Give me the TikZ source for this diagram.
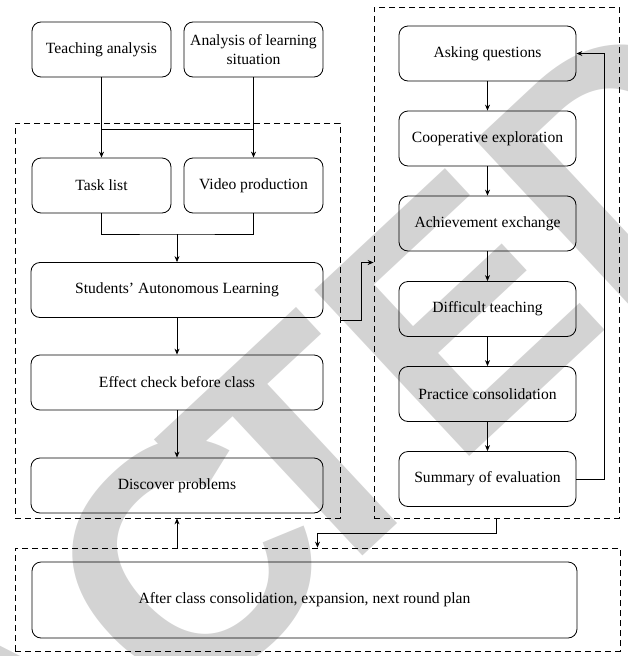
\documentclass[tikz,border=0pt]{standalone}
\usepackage{fontspec}
\setmainfont{Liberation Serif}
\newfontfamily\wmfont{Liberation Sans}
\usetikzlibrary{arrows.meta}
\definecolor{wmgray}{RGB}{211,211,211}
\tikzset{
  box/.style={draw, rounded corners=9pt, minimum width=139pt, minimum height=55pt, align=center, inner sep=2pt},
  wide/.style={box, minimum width=292pt},
  rbox/.style={box, minimum width=177pt},
  frame/.style={draw, dash pattern=on 6pt off 4pt, inner sep=0pt},
  wm/.style={text=wmgray, font=\wmfont\bfseries\fontsize{330}{330}\selectfont, inner sep=0pt, rotate=43}
}
\begin{document}
\begin{tikzpicture}[x=1pt, y=-1pt, >={Stealth[length=6pt,width=5pt]}, font=\fontsize{15.6}{19.5}\selectfont, line width=0.8pt]
\useasboundingbox (0,0) rectangle (627,656);
% watermark
\begin{scope}
  \clip (0,0) rectangle (627,656);
  \node[wm, anchor=base east] at (353.5,565) {RETRAC};
  \node[wm, anchor=base west] at (306,609) {TED};
\end{scope}
% frames
\node[frame, minimum width=325pt, minimum height=395pt] (lframe) at (177.5,320.5) {};
\node[frame, minimum width=245pt, minimum height=511pt] (rframe) at (496.5,262.5) {};
\node[frame, minimum width=605pt, minimum height=103pt] (bframe) at (317.5,599.5) {};
% before class
\node[box] (teach) at (101.5,49.5) {Teaching analysis};
\node[box] (situ) at (253.5,49.5) {Analysis of learning\\situation};
\node[box] (tasks) at (101.5,185.5) {Task list};
\node[box] (video) at (253.5,185.5) {Video production};
\node[wide] (students) at (177,290) {Students' Autonomous Learning};
\node[wide] (effect) at (177,382.5) {Effect check before class};
\node[wide] (discover) at (177,485.5) {Discover problems};
% in class
\node[rbox] (asking) at (487.5,53.5) {Asking questions};
\node[rbox] (coop) at (487.5,138.5) {Cooperative exploration};
\node[rbox] (achieve) at (487.5,223.5) {Achievement exchange};
\node[rbox] (difficult) at (487.5,309) {Difficult teaching};
\node[rbox] (practice) at (487.5,394) {Practice consolidation};
\node[rbox] (summary) at (487.5,479) {Summary of evaluation};
% after class
\node[box, minimum width=545pt, minimum height=76pt] (plan) at (304.5,600) {After class consolidation, expansion, next round plan};
% connectors
\draw[->, line width=1.2pt] (teach) -- (tasks);
\draw[->, line width=1.2pt] (situ) -- (video);
\draw[line width=1.2pt] (tasks.north) ++(0,-28) -- ++(152,0);
\coordinate (join) at (177,234);
\draw (tasks.south) |- (join) -| (video.south);
\draw[->] (join) -- (students);
\draw[->] (students) -- (effect);
\draw[->] (effect) -- (discover);
\foreach \a/\b in {asking/coop, coop/achieve, achieve/difficult, difficult/practice, practice/summary}
  \draw[->] (\a) -- (\b);
\draw[->] (summary.east) -- ++(28,0) |- (asking.east);
\draw[->] (lframe.east) -- ++(21,0) |- (rframe.west);
\draw[->] (rframe.south) -- ++(0,15) -| (bframe.north);
\draw[->] (bframe.north -| discover.south) -- (lframe.south -| discover.south);
\end{tikzpicture}
\end{document}
